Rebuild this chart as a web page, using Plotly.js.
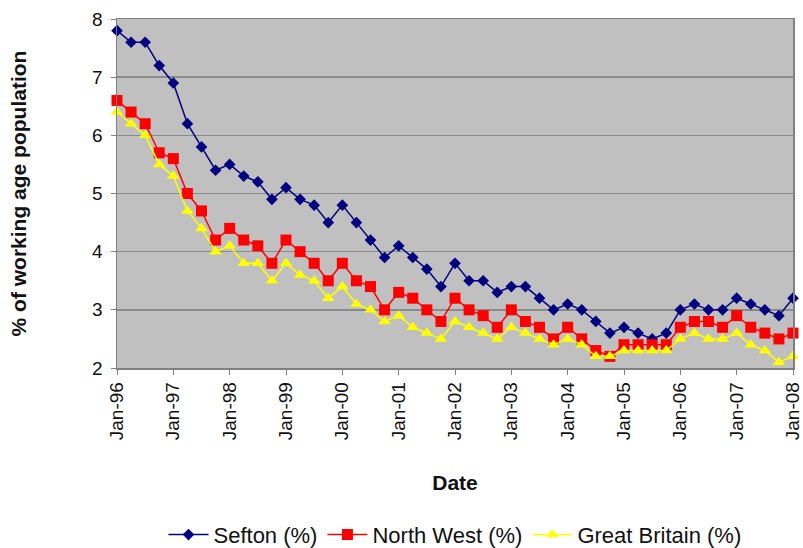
<!DOCTYPE html>
<html>
<head>
<meta charset="utf-8">
<script src="https://cdn.plot.ly/plotly-3.0.1.min.js"></script>
<style>html,body{margin:0;padding:0;background:#fff;}#chart{width:803px;height:548px;}</style>
</head>
<body>
<div id="chart"></div>
<script>
// Quarterly categories Jan-96 .. Jan-08
var quarters = [
 'Jan-96','Apr-96','Jul-96','Oct-96',
 'Jan-97','Apr-97','Jul-97','Oct-97',
 'Jan-98','Apr-98','Jul-98','Oct-98',
 'Jan-99','Apr-99','Jul-99','Oct-99',
 'Jan-00','Apr-00','Jul-00','Oct-00',
 'Jan-01','Apr-01','Jul-01','Oct-01',
 'Jan-02','Apr-02','Jul-02','Oct-02',
 'Jan-03','Apr-03','Jul-03','Oct-03',
 'Jan-04','Apr-04','Jul-04','Oct-04',
 'Jan-05','Apr-05','Jul-05','Oct-05',
 'Jan-06','Apr-06','Jul-06','Oct-06',
 'Jan-07','Apr-07','Jul-07','Oct-07',
 'Jan-08'
];
var tickLabels = ['Jan-96','Jan-97','Jan-98','Jan-99','Jan-00','Jan-01','Jan-02','Jan-03','Jan-04','Jan-05','Jan-06','Jan-07','Jan-08'];

var sefton = [
 7.8,7.6,7.6,7.2, 6.9,6.2,5.8,5.4, 5.5,5.3,5.2,4.9, 5.1,4.9,4.8,4.5,
 4.8,4.5,4.2,3.9, 4.1,3.9,3.7,3.4, 3.8,3.5,3.5,3.3, 3.4,3.4,3.2,3.0,
 3.1,3.0,2.8,2.6, 2.7,2.6,2.5,2.6, 3.0,3.1,3.0,3.0, 3.2,3.1,3.0,2.9,
 3.2
];
var northWest = [
 6.6,6.4,6.2,5.7, 5.6,5.0,4.7,4.2, 4.4,4.2,4.1,3.8, 4.2,4.0,3.8,3.5,
 3.8,3.5,3.4,3.0, 3.3,3.2,3.0,2.8, 3.2,3.0,2.9,2.7, 3.0,2.8,2.7,2.5,
 2.7,2.5,2.3,2.2, 2.4,2.4,2.4,2.4, 2.7,2.8,2.8,2.7, 2.9,2.7,2.6,2.5,
 2.6
];
var greatBritain = [
 6.4,6.2,6.0,5.5, 5.3,4.7,4.4,4.0, 4.1,3.8,3.8,3.5, 3.8,3.6,3.5,3.2,
 3.4,3.1,3.0,2.8, 2.9,2.7,2.6,2.5, 2.8,2.7,2.6,2.5, 2.7,2.6,2.5,2.4,
 2.5,2.4,2.2,2.2, 2.3,2.3,2.3,2.3, 2.5,2.6,2.5,2.5, 2.6,2.4,2.3,2.1,
 2.2
];

var FONT = 'Liberation Sans, Arial, sans-serif';

var traces = [
 {x: quarters, y: sefton, name: 'Sefton (%)', type: 'scatter', mode: 'lines+markers',
  line: {color: '#000080', width: 1.5},
  marker: {symbol: 'diamond', size: 9, color: '#000080', line: {width: 0}},
  cliponaxis: false},
 {x: quarters, y: northWest, name: 'North West (%)', type: 'scatter', mode: 'lines+markers',
  line: {color: '#FF0000', width: 1.5},
  marker: {symbol: 'square', size: 11, color: '#FF0000', line: {width: 0}},
  cliponaxis: false},
 {x: quarters, y: greatBritain, name: 'Great Britain (%)', type: 'scatter', mode: 'lines+markers',
  line: {color: '#FFFF00', width: 1.5},
  marker: {symbol: 'triangle-up', size: 11, color: '#FFFF00', line: {width: 0}},
  cliponaxis: false}
];

var layout = {
 width: 803, height: 548,
 margin: {l: 117, r: 10, t: 19, b: 180, autoexpand: false},
 paper_bgcolor: '#ffffff',
 plot_bgcolor: '#C0C0C0',
 font: {family: FONT, color: '#111111', size: 19},
 showlegend: true,
 xaxis: {
  type: 'category',
  categoryorder: 'array', categoryarray: quarters,
  range: [0, 48],
  tickmode: 'array', tickvals: tickLabels, ticktext: tickLabels,
  tickangle: -90,
  ticks: 'outside', ticklen: 5, tickcolor: '#808080', tickwidth: 1,
  showgrid: false, zeroline: false,
  showline: true, linecolor: '#808080', linewidth: 1.5, mirror: true,
  tickfont: {family: FONT, size: 19, color: '#111111'},
  title: {text: '<b>Date</b>', font: {family: FONT, size: 21, color: '#111111'}, standoff: 36}
 },
 yaxis: {
  range: [2, 8], dtick: 1, tick0: 2,
  ticks: 'outside', ticklen: 5, tickcolor: '#808080', tickwidth: 1,
  ticklabelstandoff: 4,
  showgrid: true, gridcolor: '#8a8a8a', gridwidth: 1.5,
  zeroline: false,
  showline: true, linecolor: '#808080', linewidth: 1.5, mirror: true,
  tickfont: {family: FONT, size: 19, color: '#111111'},
  title: {text: '<b>% of working age population</b>', font: {family: FONT, size: 21, color: '#111111'}, standoff: 60}
 },
 legend: {
  orientation: 'h', x: 0.5, xanchor: 'center', y: -0.478, yanchor: 'middle',
  font: {family: FONT, size: 22, color: '#111111'},
  bgcolor: 'rgba(0,0,0,0)', itemwidth: 40, tracegroupgap: 0
 }
};

Plotly.newPlot('chart', traces, layout, {displayModeBar: false, staticPlot: true});
</script>
</body>
</html>
